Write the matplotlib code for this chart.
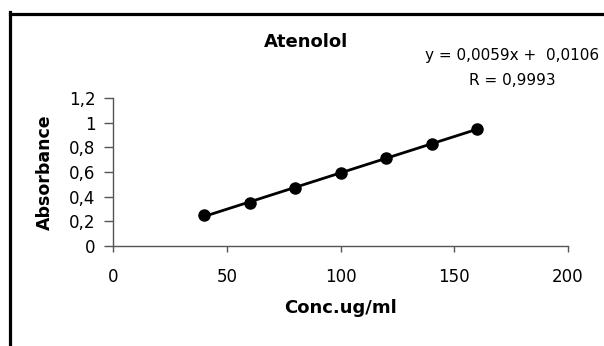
import numpy as np
import matplotlib.pyplot as plt
from matplotlib.lines import Line2D

# calibration data
conc = [40, 60, 80, 100, 120, 140, 160]
absorbance = [0.25, 0.35, 0.47, 0.59, 0.71, 0.83, 0.95]
x_ticks = [0, 50, 100, 150, 200]
y_ticks = [0, 0.2, 0.4, 0.6, 0.8, 1.0, 1.2]
y_tick_labels = ['0', '0,2', '0,4', '0,6', '0,8', '1', '1,2']
equation = 'y = 0,0059x +  0,0106'
r_text = 'R = 0,9993'

W, H = 604, 346
fig = plt.figure(figsize=(W / 100, H / 100), dpi=100)
fig.patch.set_facecolor('white')

# outer frame (left and top edges only visible)
fig.add_artist(Line2D([9.5 / W, 9.5 / W], [0, 1 - 12 / H], transform=fig.transFigure,
                      color='black', lw=2.3, solid_capstyle='projecting'))
fig.add_artist(Line2D([9.5 / W, 1], [1 - 13.5 / H, 1 - 13.5 / H], transform=fig.transFigure,
                      color='black', lw=2.3, solid_capstyle='projecting'))

ax = fig.add_axes([113 / W, 1 - 246 / H, 455 / W, 148 / H])

# trendline through the points
coef = np.polyfit(conc, absorbance, 1)
xs = np.array([min(conc), max(conc)])
ax.plot(xs, np.polyval(coef, xs), color='black', lw=2, zorder=2)
ax.plot(conc, absorbance, 'o', color='black', markersize=8, zorder=3)

ax.set_xlim(0, 200)
ax.set_ylim(0, 1.2)
ax.set_xticks(x_ticks)
ax.set_yticks(y_ticks)
ax.set_yticklabels(y_tick_labels)

for side in ['top', 'right']:
    ax.spines[side].set_visible(False)
for side in ['left', 'bottom']:
    ax.spines[side].set_color('#555555')
    ax.spines[side].set_linewidth(1)

ax.tick_params(axis='x', direction='out', length=4.5, width=1, color='#555555',
               labelsize=12, pad=11)
ax.tick_params(axis='y', direction='out', length=6.5, width=1, color='#555555',
               labelsize=12, pad=6)

ax.set_xlabel('Conc.ug/ml', fontsize=13, fontweight='bold', labelpad=10)
ax.set_ylabel('Absorbance', fontsize=12.5, fontweight='bold', labelpad=11)

fig.text(306.5 / W, 1 - 47 / H, 'Atenolol', fontsize=13, fontweight='bold',
         ha='center', va='baseline')
fig.text(512 / W, 1 - 60 / H, equation, fontsize=11, ha='center', va='baseline')
fig.text(512 / W, 1 - 85 / H, r_text, fontsize=11, ha='center', va='baseline')

fig.savefig('out.png', dpi=100)
